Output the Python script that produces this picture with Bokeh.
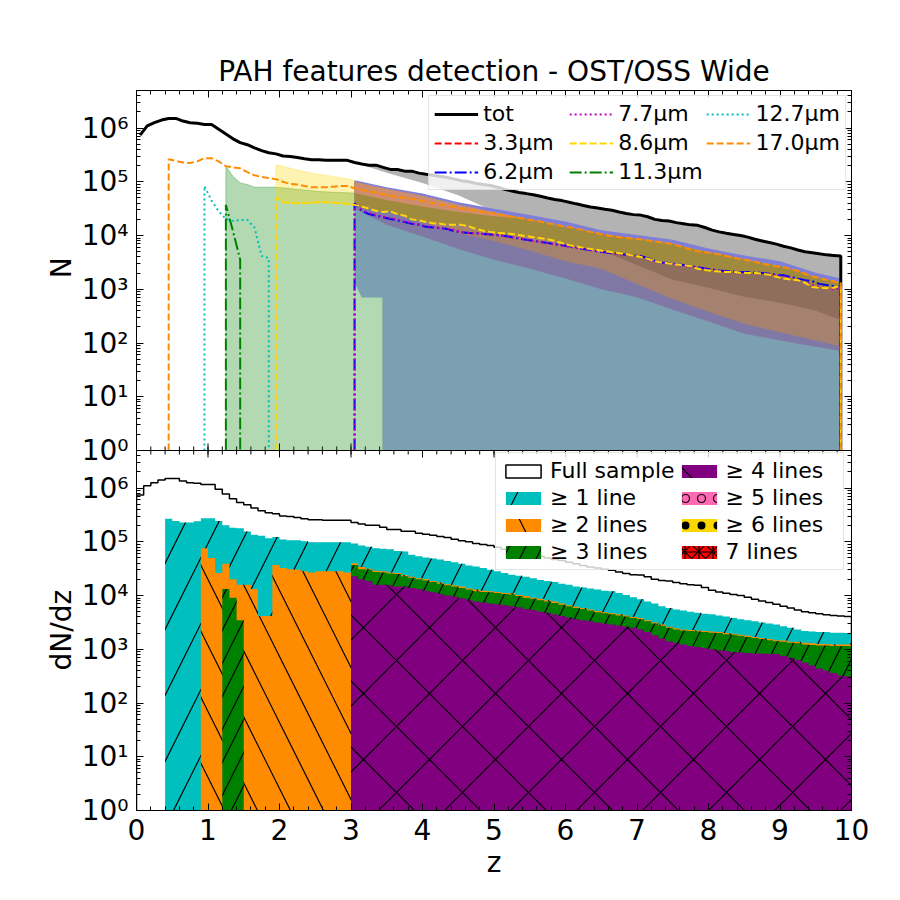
import math
from bokeh.plotting import figure
from bokeh.models import (LinearAxis, LogAxis, Legend, LegendItem, FixedTicker, Range1d,
                          LogScale, CustomJSTickFormatter, Span, Title)
from bokeh.embed import file_html
from bokeh.resources import INLINE

# ---------------- data ----------------
z_edges = [round(0.1 * i, 1) for i in range(101)]
z_mid = [round(0.1 * i + 0.05, 2) for i in range(100)]

full_sample = [
    7.40e5, 1.10e6, 1.26e6, 1.41e6, 1.51e6, 1.51e6, 1.35e6, 1.26e6, 1.23e6, 1.17e6,
    1.17e6, 9.55e5, 7.76e5, 6.31e5, 5.37e5, 4.90e5, 4.27e5, 3.80e5, 3.47e5, 3.31e5,
    3.02e5, 2.95e5, 2.82e5, 2.69e5, 2.57e5, 2.57e5, 2.51e5, 2.51e5, 2.51e5, 2.51e5,
    2.29e5, 2.14e5, 2.04e5, 2.04e5, 1.86e5, 1.70e5, 1.70e5, 1.58e5, 1.58e5, 1.45e5,
    1.38e5, 1.32e5, 1.26e5, 1.20e5, 1.12e5, 1.05e5, 1.00e5, 9.33e4, 8.91e4, 8.51e4,
    7.94e4, 7.24e4, 6.76e4, 6.31e4, 6.03e4, 5.75e4, 5.37e4, 5.01e4, 4.68e4, 4.47e4,
    4.17e4, 3.89e4, 3.63e4, 3.39e4, 3.24e4, 3.09e4, 2.95e4, 2.75e4, 2.57e4, 2.45e4,
    2.40e4, 2.24e4, 2.00e4, 1.91e4, 1.86e4, 1.74e4, 1.66e4, 1.58e4, 1.55e4, 1.41e4,
    1.26e4, 1.17e4, 1.10e4, 1.05e4, 1.00e4, 9.33e3, 8.51e3, 7.94e3, 7.41e3, 6.92e3,
    6.31e3, 5.89e3, 5.37e3, 5.01e3, 4.79e3, 4.57e3, 4.37e3, 4.27e3, 4.17e3, 4.07e3,
]

ge1 = [0] * 4 + [
    2.69e5, 2.45e5, 2.29e5, 2.29e5, 2.40e5, 2.75e5, 2.75e5, 2.45e5, 2.04e5, 1.82e5,
    1.78e5, 1.55e5, 1.35e5, 1.29e5, 1.17e5, 1.23e5, 1.10e5, 1.07e5, 1.07e5, 1.02e5,
    9.77e4, 9.77e4, 9.77e4, 9.77e4, 9.77e4, 9.77e4, 9.33e4, 8.51e4, 8.13e4, 7.59e4,
    7.41e4, 7.24e4, 6.76e4, 6.61e4, 5.75e4, 5.37e4, 5.13e4, 4.90e4, 4.68e4, 4.37e4,
    4.17e4, 3.89e4, 3.63e4, 3.47e4, 3.24e4, 3.02e4, 2.82e4, 2.63e4, 2.45e4, 2.34e4,
    2.24e4, 2.09e4, 1.95e4, 1.86e4, 1.78e4, 1.66e4, 1.58e4, 1.48e4, 1.41e4, 1.35e4,
    1.29e4, 1.23e4, 1.20e4, 1.12e4, 1.02e4, 9.33e3, 8.51e3, 7.76e3, 7.08e3, 6.31e3,
    5.89e3, 5.50e3, 5.25e3, 5.01e3, 4.79e3, 4.57e3, 4.47e3, 4.27e3, 4.07e3, 3.80e3,
    3.63e3, 3.47e3, 3.31e3, 3.16e3, 3.02e3, 2.88e3, 2.69e3, 2.51e3, 2.34e3, 2.19e3,
    2.14e3, 2.09e3, 2.09e3, 2.04e3, 2.04e3, 2.00e3,
]

ge2 = [0] * 9 + [
    7.59e4, 5.01e4, 2.63e4, 3.89e4, 2.00e4, 1.58e4, 1.58e4, 1.32e4, 4.17e3, 4.17e3,
    3.72e4, 3.24e4, 3.09e4, 3.02e4, 2.82e4, 2.69e4, 2.82e4, 2.82e4, 2.82e4, 2.82e4,
    2.69e4, 3.98e4, 3.39e4, 3.16e4, 2.88e4, 2.82e4, 2.69e4, 2.63e4, 2.40e4, 2.24e4,
    2.09e4, 2.00e4, 1.86e4, 1.74e4, 1.62e4, 1.55e4, 1.48e4, 1.35e4, 1.29e4, 1.23e4,
    1.20e4, 1.17e4, 1.12e4, 1.10e4, 1.02e4, 9.77e3, 9.12e3, 8.71e3, 8.13e3, 7.76e3,
    7.08e3, 6.61e3, 6.17e3, 5.89e3, 5.50e3, 5.13e3, 4.90e3, 4.68e3, 4.47e3, 4.27e3,
    3.98e3, 3.80e3, 3.47e3, 3.16e3, 2.88e3, 2.63e3, 2.45e3, 2.34e3, 2.29e3, 2.24e3,
    2.19e3, 2.14e3, 2.09e3, 2.00e3, 1.95e3, 1.86e3, 1.78e3, 1.70e3, 1.62e3, 1.55e3,
    1.48e3, 1.45e3, 1.38e3, 1.38e3, 1.32e3, 1.29e3, 1.26e3, 1.26e3, 1.23e3, 1.23e3, 1.23e3,
]

ge3 = [0] * 12 + [1.32e4, 9.12e3, 3.47e3] + [0] * 15 + [
    3.72e4, 3.09e4, 3.02e4, 2.75e4, 2.69e4, 2.57e4, 2.51e4, 2.29e4, 2.14e4, 2.00e4,
    1.91e4, 1.78e4, 1.66e4, 1.55e4, 1.48e4, 1.38e4, 1.29e4, 1.20e4, 1.17e4, 1.15e4,
    1.12e4, 1.07e4, 1.05e4, 9.77e3, 9.12e3, 8.71e3, 8.13e3, 7.76e3, 7.24e3, 6.76e3,
    6.31e3, 5.89e3, 5.62e3, 5.25e3, 4.90e3, 4.68e3, 4.47e3, 4.27e3, 4.07e3, 3.80e3,
    3.63e3, 3.31e3, 3.02e3, 2.75e3, 2.51e3, 2.34e3, 2.24e3, 2.19e3, 2.14e3, 2.09e3,
    2.04e3, 2.00e3, 1.91e3, 1.86e3, 1.78e3, 1.70e3, 1.62e3, 1.55e3, 1.48e3, 1.41e3,
    1.38e3, 1.32e3, 1.29e3, 1.23e3, 1.20e3, 1.17e3, 1.17e3, 1.15e3, 1.15e3, 1.15e3,
]

ge4 = [0] * 30 + [
    2.29e4, 2.00e4, 1.86e4, 1.58e4, 1.58e4, 1.55e4, 1.48e4, 1.48e4, 1.38e4, 1.32e4,
    1.23e4, 1.15e4, 1.07e4, 1.00e4, 9.55e3, 8.91e3, 8.32e3, 7.76e3, 7.41e3, 7.08e3,
    6.92e3, 6.61e3, 6.31e3, 6.03e3, 5.62e3, 5.37e3, 5.01e3, 4.79e3, 4.47e3, 4.17e3,
    3.89e3, 3.63e3, 3.47e3, 3.31e3, 3.16e3, 3.02e3, 2.88e3, 2.75e3, 2.63e3, 2.51e3,
    2.34e3, 2.09e3, 1.82e3, 1.58e3, 1.41e3, 1.32e3, 1.23e3, 1.15e3, 1.10e3, 1.05e3,
    1.00e3, 955, 933, 891, 871, 851, 832, 832, 813, 813,
    759, 692, 631, 562, 501, 437, 398, 363, 324, 316,
]

ge5 = [0] * 100
ge6 = [0] * 100
ge7 = [0] * 100

# top panel: number of detections per feature (last bin empty)
tot_line = full_sample[:99] + [0]

n33 = [0] * 100

n62 = [0] * 30 + [
    3.98e4, 2.88e4, 2.51e4, 2.34e4, 2.19e4, 2.04e4, 1.91e4, 1.78e4, 1.66e4, 1.58e4,
    1.45e4, 1.41e4, 1.38e4, 1.32e4, 1.20e4, 1.15e4, 1.12e4, 1.10e4, 1.07e4, 1.05e4,
    1.02e4, 9.77e3, 9.33e3, 8.71e3, 8.32e3, 7.94e3, 7.59e3, 7.24e3, 6.92e3, 6.61e3,
    6.31e3, 6.03e3, 5.62e3, 5.37e3, 5.01e3, 4.90e3, 4.68e3, 4.57e3, 4.37e3, 4.27e3,
    4.17e3, 3.80e3, 3.39e3, 3.16e3, 3.09e3, 2.95e3, 2.82e3, 2.69e3, 2.57e3, 2.45e3,
    2.34e3, 2.24e3, 2.19e3, 2.14e3, 2.09e3, 2.09e3, 2.04e3, 2.00e3, 1.95e3, 1.86e3,
    1.82e3, 1.70e3, 1.58e3, 1.48e3, 1.41e3, 1.26e3, 1.20e3, 1.15e3, 1.12e3,
] + [0]

n77 = [0] * 30 + [
    3.98e4, 3.02e4, 2.63e4, 2.40e4, 2.24e4, 2.09e4, 2.00e4, 1.82e4, 1.70e4, 1.62e4,
    1.51e4, 1.45e4, 1.38e4, 1.32e4, 1.26e4, 1.17e4, 1.12e4, 1.10e4, 1.07e4, 1.05e4,
    1.00e4, 9.77e3, 9.33e3, 8.91e3, 8.51e3, 7.94e3, 7.59e3, 7.24e3, 6.92e3, 6.46e3,
    6.17e3, 5.89e3, 5.62e3, 5.37e3, 5.13e3, 4.90e3, 4.68e3, 4.47e3, 4.37e3, 4.17e3,
    4.07e3, 3.72e3, 3.31e3, 3.16e3, 3.02e3, 2.88e3, 2.75e3, 2.63e3, 2.51e3, 2.40e3,
    2.29e3, 2.19e3, 2.14e3, 2.09e3, 2.04e3, 2.04e3, 2.00e3, 1.95e3, 1.91e3, 1.82e3,
    1.74e3, 1.62e3, 1.48e3, 1.38e3, 1.20e3, 1.12e3, 1.05e3, 1.00e3, 1.05e3,
] + [0]

n86 = [0] * 19 + [
    5.01e4, 4.17e4, 4.07e4, 3.98e4, 3.98e4, 4.07e4, 4.17e4, 4.17e4, 4.07e4, 3.98e4,
    3.89e4, 3.72e4, 3.47e4, 3.16e4, 2.88e4, 2.75e4, 2.82e4, 2.51e4, 2.34e4, 2.00e4,
    1.91e4, 1.78e4, 1.70e4, 1.66e4, 1.58e4, 1.58e4, 1.58e4, 1.48e4, 1.32e4, 1.23e4,
    1.17e4, 1.12e4, 1.10e4, 1.07e4, 1.02e4, 9.77e3, 9.33e3, 8.91e3, 8.51e3, 7.94e3,
    7.24e3, 6.61e3, 6.31e3, 5.89e3, 5.62e3, 5.37e3, 5.13e3, 4.90e3, 4.68e3, 4.47e3,
    4.17e3, 3.98e3, 3.72e3, 3.31e3, 3.16e3, 3.02e3, 2.88e3, 2.82e3, 2.69e3, 2.40e3,
    2.29e3, 2.19e3, 2.14e3, 2.09e3, 2.09e3, 2.04e3, 2.00e3, 2.00e3, 1.95e3, 1.86e3,
    1.70e3, 1.58e3, 1.51e3, 1.48e3, 1.32e3, 1.10e3, 1.07e3, 1.05e3, 1.07e3, 1.17e3,
] + [0]

n113 = [0] * 12 + [3.72e4, 1.20e4, 3.55e3] + [0] * 85

n127 = [0] * 9 + [8.32e4, 4.47e4, 2.82e4, 2.04e4, 1.86e4, 1.95e4, 1.95e4, 1.41e4,
                  4.17e3, 3.80e3] + [0] * 81

n170 = [0] * 4 + [
    2.63e5, 2.45e5, 2.29e5, 2.24e5, 2.40e5, 2.75e5, 2.75e5, 2.40e5, 1.95e5, 1.86e5,
    1.78e5, 1.51e5, 1.32e5, 1.23e5, 1.17e5, 1.12e5, 1.00e5, 9.12e4, 8.91e4, 8.32e4,
    7.94e4, 7.94e4, 7.94e4, 8.13e4, 8.32e4, 8.32e4, 7.59e4, 7.08e4, 6.61e4, 6.31e4,
    5.89e4, 5.50e4, 5.25e4, 5.01e4, 4.79e4, 4.57e4, 4.27e4, 3.98e4, 3.80e4, 3.55e4,
    3.39e4, 3.16e4, 3.02e4, 2.88e4, 2.75e4, 2.63e4, 2.51e4, 2.34e4, 2.24e4, 2.14e4,
    2.00e4, 1.91e4, 1.82e4, 1.70e4, 1.62e4, 1.51e4, 1.45e4, 1.35e4, 1.26e4, 1.17e4,
    1.10e4, 1.02e4, 9.77e3, 9.33e3, 9.12e3, 8.71e3, 8.51e3, 8.13e3, 7.76e3, 7.41e3,
    7.08e3, 6.61e3, 6.03e3, 5.50e3, 5.13e3, 4.90e3, 4.68e3, 4.47e3, 4.17e3, 3.89e3,
    3.63e3, 3.47e3, 3.24e3, 3.02e3, 2.82e3, 2.69e3, 2.57e3, 2.40e3, 2.19e3, 1.95e3,
    1.74e3, 1.62e3, 1.51e3, 1.41e3, 1.32e3,
] + [0]

# top panel shaded ranges
gb_z = [1.25, 1.35, 1.45, 1.55, 1.65, 1.75, 1.85, 1.95, 2.25, 2.55, 2.85, 3.05, 3.44]
gb_top = [1.95e5, 1.26e5, 9.55e4, 8.91e4, 7.94e4, 7.94e4, 7.94e4, 7.94e4, 7.24e4,
          6.61e4, 6.31e4, 6.17e4, 5.62e4]
yb_z = [1.95, 2.0, 2.25, 2.5, 2.75, 3.05]
yb_top = [2.04e5, 2.00e5, 1.66e5, 1.41e5, 1.26e5, 1.07e5]

zb = [3.05, 3.5, 4.0, 4.5, 5.0, 5.5, 6.0, 6.5, 7.0, 7.5, 8.0, 8.5, 9.0, 9.5, 9.85]
band_gray_low = [2.29e5, 1.48e5, 9.55e4, 5.62e4, 2.82e4, 2.00e4, 1.45e4, 1.10e4, 8.51e3,
                 6.92e3, 4.79e3, 3.55e3, 2.69e3, 1.66e3, 1.32e3]
band_blue_top = [1.07e5, 7.94e4, 6.03e4, 4.17e4, 3.16e4, 2.40e4, 1.82e4, 1.26e4, 1.02e4,
                 8.32e3, 5.75e3, 4.27e3, 3.31e3, 2.04e3, 1.58e3]
band_blue_low = [1.00e5, 7.41e4, 5.50e4, 3.80e4, 2.75e4, 2.00e4, 1.48e4, 1.07e4, 8.71e3,
                 7.08e3, 4.90e3, 3.63e3, 2.75e3, 1.70e3, 1.35e3]
band_sal_low = [6.17e4, 4.57e4, 3.47e4, 2.75e4, 2.29e4, 2.00e4]
band_pu_low = [3.16e4, 1.58e4, 9.55e3, 5.62e3, 3.55e3, 2.40e3, 1.58e3, 1.00e3, 708, 417,
               251, 148, 112, 85, 71]
band_lb_low = [3.80e4, 2.82e4, 1.78e4, 1.12e4, 7.94e3, 5.25e3, 3.31e3, 2.40e3, 1.26e3,
               661, 380, 229, 158, 112, 87]
band_db_low = [5.25e3, 2.82e3, 1.51e3, 1.07e3, 724, 562, 398, 269]
teal_z = [3.05, 3.15, 3.44, 3.44, 9.85]
teal_low = [1.35e3, 700, 700, 0, 0]

# ---------------- layout constants ----------------
FONT = "DejaVu Sans"
Y_TOP = 5.0e6            # upper limit of each panel
SPLIT = 1.0 / Y_TOP      # lower panel occupies the lower half of the shared frame
HIST_FLOOR = 1e-3


def capped_line(xs, vals, floor=1.0):
    """Line through non-empty bins; empty bins drop vertically to the panel floor."""
    ox, oy = [], []
    n = len(vals)
    for i, v in enumerate(vals):
        if v > 0:
            if i > 0 and vals[i - 1] <= 0:
                ox.append(xs[i]); oy.append(floor)
            ox.append(xs[i]); oy.append(v)
            if i < n - 1 and vals[i + 1] <= 0:
                ox.append(xs[i]); oy.append(floor)
        else:
            if not ox or not math.isnan(oy[-1]):
                ox.append(xs[i]); oy.append(float("nan"))
    return ox, oy


def hist_y(vals):
    v = [x if x > 0 else HIST_FLOOR for x in vals]
    return v + [v[-1]]


def band(p, x_up, y_up, x_lo, y_lo, **kw):
    xs = list(x_up) + list(x_lo)[::-1]
    ys = [v if v > 0 else 1.0 for v in list(y_up) + list(y_lo)[::-1]]
    return p.patch(xs, ys, **kw)


dec = list(range(7))
y_major = [10.0 ** k for k in dec] + [SPLIT * 10.0 ** k for k in dec]
y_minor = ([m * 10.0 ** k for k in dec for m in range(2, 10) if m * 10.0 ** k < Y_TOP] +
           [SPLIT * m * 10.0 ** k for k in dec for m in range(2, 10) if m * 10.0 ** k < Y_TOP])
x_major = list(range(11))
x_minor = [round(0.2 * i, 1) for i in range(51)]

exp_formatter = CustomJSTickFormatter(code="""
    const sup = {"0":"\u2070","1":"\u00b9","2":"\u00b2","3":"\u00b3","4":"\u2074",
                 "5":"\u2075","6":"\u2076","7":"\u2077","8":"\u2078","9":"\u2079","-":"\u207b"};
    let e = Math.log10(tick);
    if (e < -0.35) { e = e + 6.69897; }
    const k = Math.round(e);
    return "10" + String(k).split("").map(c => sup[c]).join("");
""")


def style_axis(ax, labels):
    ax.major_tick_in = 7
    ax.major_tick_out = 0
    ax.minor_tick_in = 4
    ax.minor_tick_out = 0
    ax.axis_line_color = "black"
    ax.major_tick_line_color = "black"
    ax.minor_tick_line_color = "black"
    ax.major_label_text_font = FONT
    ax.major_label_text_color = "black"
    if labels:
        ax.major_label_text_font_size = "28px"
        ax.major_label_standoff = 8
    else:
        ax.major_label_text_font_size = "1px"
        ax.major_label_text_alpha = 0
        ax.major_label_standoff = 0
    ax.axis_label_text_font = FONT
    ax.axis_label_text_font_size = "28px"
    ax.axis_label_text_font_style = "normal"
    ax.axis_label_text_color = "black"
    ax.axis_label_standoff = 3


p = figure(frame_width=715, frame_height=720, x_range=Range1d(0, 10),
           y_range=Range1d(SPLIT, Y_TOP), y_axis_type="log", output_backend="svg",
           toolbar_location=None, min_border_left=136, min_border_right=33,
           min_border_top=90, min_border_bottom=80,
           title="PAH features detection - OST/OSS Wide")
p.extra_y_ranges = {"bot": Range1d(1, Y_TOP / SPLIT)}
p.extra_y_scales = {"bot": LogScale()}
p.xgrid.visible = False
p.ygrid.visible = False
p.outline_line_color = "black"
p.background_fill_color = "white"
p.border_fill_color = "white"
p.title.text_font = FONT
p.title.text_font_size = "28px"
p.title.text_font_style = "normal"
p.title.text_color = "black"
p.title.align = "center"
p.title.standoff = 6

p.xaxis.ticker = FixedTicker(ticks=x_major, minor_ticks=x_minor)
p.yaxis.ticker = FixedTicker(ticks=y_major, minor_ticks=y_minor)
p.yaxis.formatter = exp_formatter
for ax in p.yaxis:
    style_axis(ax, True)
for ax in p.xaxis:
    style_axis(ax, True)
p.xaxis.axis_label = "z"
right = LogAxis(ticker=FixedTicker(ticks=y_major, minor_ticks=y_minor))
style_axis(right, False)
p.add_layout(right, "right")
above = LinearAxis(ticker=FixedTicker(ticks=x_major, minor_ticks=x_minor))
style_axis(above, False)
p.add_layout(above, "above")

# y-axis titles of the two panels: "dN/dz" (lower panel) and "N" (upper panel)
NBSP = "\u00a0"
p.add_layout(Title(text="dN/dz" + NBSP * 35 + "N", align="left", offset=140,
                   text_font=FONT, text_font_size="28px", text_font_style="normal",
                   text_color="black", standoff=2), "left")

# shared boundary between the two panels, with inward ticks on both sides
p.add_layout(Span(location=1.0, dimension="width", line_color="black", line_width=1))
maj_f, min_f = 10 ** (7 / 53.7), 10 ** (4 / 53.7)
p.segment(x0=x_major, x1=x_major, y0=[1 / maj_f] * 11, y1=[maj_f] * 11,
          line_color="black", line_width=1)
p.segment(x0=x_minor, x1=x_minor, y0=[1 / min_f] * 51, y1=[min_f] * 51,
          line_color="black", line_width=1)

# ---------------- top panel ----------------
band(p, gb_z, gb_top, [1.25, 3.44], [0, 0], fill_color="green", fill_alpha=0.3,
     line_color="green", line_alpha=0.3)
band(p, yb_z, yb_top, z_mid[19:31], n86[19:31], fill_color="gold", fill_alpha=0.3,
     line_color="gold", line_alpha=0.3)
band(p, zb, band_blue_low, teal_z, teal_low, fill_color="#7ba0b1", line_color=None)
band(p, zb, band_blue_low, zb, band_pu_low, fill_color="#8079a6", line_color=None)
band(p, zb, band_blue_low, zb, band_lb_low, fill_color="#a5826f", line_color=None)
band(p, zb[7:], band_blue_low[7:], zb[7:], band_db_low, fill_color="#8f6e5d", line_color=None)
band(p, z_mid[30:99], tot_line[30:99], zb, band_gray_low, fill_color="#b3b3b3", line_color=None)
band(p, zb, band_blue_low, z_mid[30:99], n86[30:99], fill_color="#a08a3e", line_color=None)
band(p, zb[:6], band_blue_low[:6], zb[:6], band_sal_low, fill_color="#cf8d70", line_color=None)
band(p, zb, band_blue_top, zb, band_blue_low, fill_color="#7f7fd8", line_color=None)

line_specs = [
    (tot_line, "black", 3, "solid", "tot"),
    (n33, "#ff0000", 2, "7 3", "3.3μm"),
    (n62, "#0000ff", 2, "12 3 2 3", "6.2μm"),
    (n77, "#bf00bf", 2, "2 3", "7.7μm"),
    (n86, "#ffd700", 2, "7 3", "8.6μm"),
    (n113, "#008000", 2, "12 3 2 3", "11.3μm"),
    (n127, "#00bfbf", 2, "2 3", "12.7μm"),
    (n170, "#ff8c00", 2, "7 3", "17.0μm"),
]
items1 = []
for vals, col, lw, dash, lab in line_specs:
    lx, ly = capped_line(z_mid, vals)
    r = p.line(lx, ly, line_color=col, line_width=lw, line_dash=dash)
    items1.append(LegendItem(label=lab, renderers=[r]))

# ---------------- bottom panel ----------------
hist_specs = [
    (ge1, "#00bfbf", "/", 66, "≥ 1 line"),
    (ge2, "#ff8c00", "\\", 66, "≥ 2 lines"),
    (ge3, "#008000", "/", 33, "≥ 3 lines"),
    (ge4, "#800080", "x", 66, "≥ 4 lines"),
    (ge5, "#ff69b4", "o", 16, "≥ 5 lines"),
    (ge6, "#ffd700", ".", 16, "≥ 6 lines"),
    (ge7, "#ff0000", "*", 14, "7 lines"),
]

full_x = [0.0] + z_edges[:-1] + [10.0, 10.0]
full_y = [HIST_FLOOR] + full_sample + [full_sample[-1], HIST_FLOOR]
p.step(full_x, full_y, mode="after", line_color="black", line_width=1.5, y_range_name="bot")
r_full = p.quad(left=[-3], right=[-2], bottom=[10], top=[100], fill_color="white",
                line_color="black", line_width=1.5, y_range_name="bot")

items2 = [LegendItem(label="Full sample", renderers=[r_full])]
for vals, col, hp, hs, lab in hist_specs:
    r = p.varea_step(x=z_edges, y1=[HIST_FLOOR] * 101, y2=hist_y(vals), step_mode="after",
                     fill_color=col, hatch_pattern=hp, hatch_color="black",
                     hatch_scale=hs, hatch_weight=1.2, y_range_name="bot")
    items2.append(LegendItem(label=lab, renderers=[r]))

leg1 = Legend(items=items1, location="top_right", ncols=3, spacing=4, label_width=82)
leg2 = Legend(items=items2, location=(359, 240), ncols=2, spacing=2, label_width=112)

for leg in (leg1, leg2):
    leg.label_text_font = FONT
    leg.label_text_font_size = "22px"
    leg.label_text_color = "black"
    leg.glyph_width = 44
    leg.glyph_height = 16
    leg.label_standoff = 5
    leg.label_height = 24
    leg.padding = 5
    leg.margin = 5
    leg.background_fill_color = "white"
    leg.background_fill_alpha = 0.8
    leg.border_line_color = "#cccccc"
    leg.border_line_width = 1
    p.add_layout(leg)

open("out.html", "w").write(file_html(p, INLINE))
